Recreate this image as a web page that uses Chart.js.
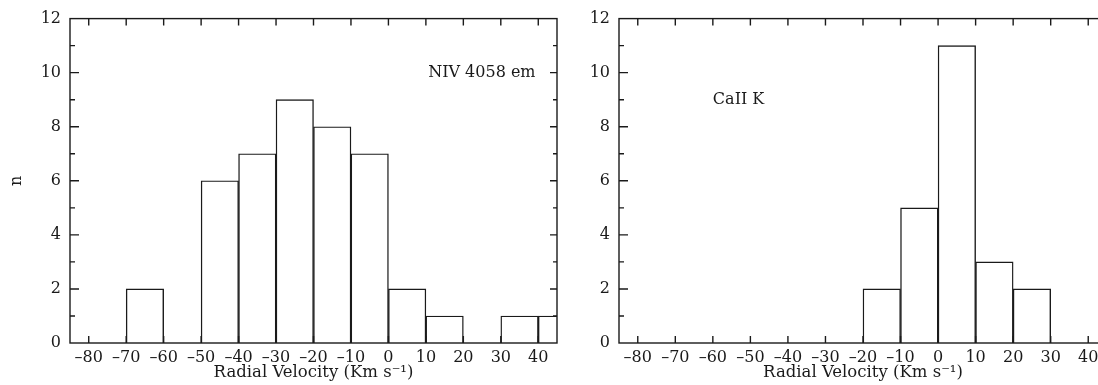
<!DOCTYPE html>
<html>
<head>
<meta charset="utf-8">
<script src="https://cdn.jsdelivr.net/npm/chart.js@4.4.0/dist/chart.umd.min.js"></script>
<style>
  html, body { margin: 0; padding: 0; background: #fff; overflow: hidden; width: 1098px; height: 385px; }
  .panel { position: absolute; top: 0; height: 385px; }
  #p1 { left: 0; width: 570px; }
  #p2 { left: 560px; width: 560px; }
</style>
</head>
<body>
<div class="panel" id="p1"><canvas id="chart1"></canvas></div>
<div class="panel" id="p2"><canvas id="chart2"></canvas></div>
<script>
// histogram bins (left edge of each 10 km/s bin) and counts
const binWidth = 10;
const nivBinStart = [-70, -60, -50, -40, -30, -20, -10, 0, 10, 20, 30, 40];
const nivCounts   = [  2,   0,   6,   7,   9,   8,   7, 2,  1,  0,  1,  1];
const caBinStart  = [-20, -10, 0, 10, 20];
const caCounts    = [  2,   5, 11, 3,  2];

const xTickValues = [-80, -70, -60, -50, -40, -30, -20, -10, 0, 10, 20, 30, 40];
const yTickValues = [0, 2, 4, 6, 8, 10, 12];

const ink = '#1a1a1a';
const serif = "'DejaVu Serif', 'Liberation Serif', serif";

const ctx1 = document.getElementById('chart1').getContext('2d');
const ctx2 = document.getElementById('chart2').getContext('2d');

// box frame, inward ticks and the panel label
const frameTicks = {
  id: 'frameTicks',
  afterDraw(chart, args, opts) {
    const { ctx, chartArea: a, scales: { x, y } } = chart;
    ctx.save();
    ctx.strokeStyle = ink;
    ctx.lineWidth = 1.4;
    ctx.strokeRect(a.left, a.top, a.right - a.left, a.bottom - a.top);
    ctx.beginPath();
    for (const v of xTickValues) {
      const px = x.getPixelForValue(v);
      ctx.moveTo(px, a.bottom); ctx.lineTo(px, a.bottom - 7);
      ctx.moveTo(px, a.top); ctx.lineTo(px, a.top + 7);
    }
    for (let v = 1; v < 12; v++) {
      const py = y.getPixelForValue(v);
      const major = yTickValues.includes(v);
      ctx.moveTo(a.left, py); ctx.lineTo(a.left + (major ? 9 : 5), py);
      ctx.moveTo(a.right, py); ctx.lineTo(a.right - (major ? 7 : 4), py);
    }
    ctx.stroke();
    if (opts.label) {
      ctx.fillStyle = ink;
      ctx.font = '16px ' + serif;
      ctx.textAlign = 'left';
      ctx.textBaseline = 'middle';
      ctx.fillText(opts.label, x.getPixelForValue(opts.at[0]), y.getPixelForValue(opts.at[1]));
    }
    ctx.restore();
  }
};

function histData(starts, counts) {
  return starts.map((s, i) => ({ x: s + binWidth / 2, y: counts[i] }));
}

function makeChart(ctx, starts, counts, label, at, yAxisWidth, showN) {
  return new Chart(ctx, {
    type: 'bar',
    data: {
      datasets: [{
        data: histData(starts, counts),
        backgroundColor: '#fff',
        borderColor: ink,
        borderWidth: 1.4,
        barPercentage: 1,
        categoryPercentage: 1
      }]
    },
    options: {
      responsive: true,
      maintainAspectRatio: false,
      animation: false,
      layout: { padding: { left: 0, top: 18, right: 13, bottom: 0 } },
      plugins: {
        legend: { display: false },
        tooltip: { enabled: false },
        frameTicks: { label: label, at: at }
      },
      scales: {
        x: {
          type: 'linear',
          min: -85,
          max: 45,
          offset: false,
          afterBuildTicks: s => { s.ticks = xTickValues.map(v => ({ value: v })); },
          afterFit: s => { s.height = 42; },
          grid: { display: false, drawTicks: false },
          border: { display: false },
          ticks: {
            autoSkip: false,
            maxRotation: 0,
            padding: 5,
            color: ink,
            font: { family: serif, size: 16 },
            callback: v => String(v).replace('-', '\u2013')
          },
          title: {
            display: true,
            text: 'Radial Velocity (Km s\u207B\u00B9)',
            color: ink,
            font: { family: serif, size: 16.5 },
            padding: { top: 0, bottom: 2 }
          }
        },
        y: {
          min: 0,
          max: 12,
          afterFit: s => { s.width = yAxisWidth; },
          grid: { display: false, drawTicks: false },
          border: { display: false },
          ticks: {
            stepSize: 2,
            padding: 9,
            color: ink,
            font: { family: serif, size: 16 }
          },
          title: {
            display: showN,
            text: 'n',
            color: ink,
            font: { family: serif, size: 16 },
            padding: { top: 7, bottom: 0 }
          }
        }
      }
    },
    plugins: [frameTicks]
  });
}

makeChart(ctx1, nivBinStart, nivCounts, 'NIV 4058 em', [10.6, 10], 70, true);
makeChart(ctx2, caBinStart, caCounts, 'CaII K', [-60, 9], 59, false);
</script>
</body>
</html>
